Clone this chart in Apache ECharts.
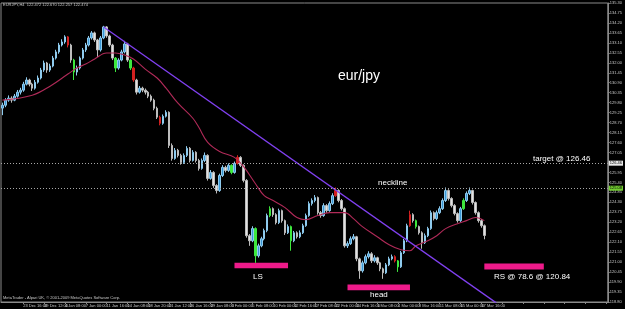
<!DOCTYPE html>
<html><head><meta charset="utf-8">
<script src="https://cdn.jsdelivr.net/npm/echarts/dist/echarts.min.js"></script>
<style>html,body{margin:0;padding:0;background:#000;}#c{width:625px;height:309px;}</style>
</head><body><div id="c"></div>
<script>
// ---- data ----
const dateLabels = ["21 Dec 2009","23 Dec 16:00","29 Dec 12:00","4 Jan 08:00","7 Jan 00:00","11 Jan 16:00","14 Jan 08:00","18 Jan 20:00","21 Jan 12:00","26 Jan 16:00","29 Jan 08:00","3 Feb 00:00","5 Feb 08:00","10 Feb 00:00","12 Feb 16:00","17 Feb 08:00","22 Feb 00:00","24 Feb 16:00","1 Mar 08:00","4 Mar 00:00","8 Mar 16:00","11 Mar 08:00","15 Mar 00:00","17 Mar 16:00"];
const firstOpen = 129.50;
const closes = [129.66,129.94,130.05,129.94,130.16,130.38,130.49,130.82,131.05,130.82,
130.60,130.93,131.16,131.60,131.99,131.60,131.82,132.26,132.60,132.98,
133.15,133.43,132.98,132.15,131.49,131.71,132.26,132.71,132.98,133.37,
133.65,133.26,132.71,133.37,133.98,133.48,132.98,132.26,131.71,132.15,
132.60,133.04,132.15,131.71,131.05,130.38,130.60,130.49,130.38,130.16,
129.94,129.49,129.00,128.66,129.05,129.27,127.44,126.72,127.17,126.89,
126.50,126.89,127.28,126.61,127.06,126.61,126.17,126.61,126.89,125.62,
125.95,125.23,124.95,125.78,126.23,126.06,126.34,125.95,126.45,126.78,
126.34,125.51,122.46,122.18,122.85,121.35,121.90,122.29,122.74,123.57,
123.95,123.62,123.18,123.84,123.29,122.62,122.96,122.18,122.62,122.40,
122.62,123.01,123.57,124.23,124.40,124.56,123.73,123.57,124.12,123.84,
124.23,124.67,124.95,124.40,123.95,121.90,122.02,122.29,122.40,121.18,
120.52,120.96,121.30,121.46,121.07,121.24,120.96,120.63,120.41,120.85,
121.18,121.30,121.07,120.74,121.52,122.18,123.01,123.62,123.29,122.96,
122.62,122.07,122.46,122.85,123.73,123.40,123.73,123.95,124.40,124.95,
124.51,124.12,123.68,123.29,123.95,124.40,124.79,124.95,124.29,123.73,
123.29,123.01,122.47];
const highs = [129.80,130.05,130.20,130.15,130.28,130.50,130.62,130.95,131.20,131.12,
130.90,131.05,131.30,131.72,132.12,132.05,131.95,132.38,132.72,133.10,
133.30,133.52,133.48,133.05,132.22,131.85,132.35,132.82,133.10,133.48,
133.75,133.72,133.32,133.48,134.04,134.02,133.55,133.05,132.32,132.25,
132.72,133.21,133.10,132.22,131.78,131.12,130.72,130.68,130.58,130.45,
130.25,130.02,129.58,129.08,129.15,129.38,129.32,127.55,127.30,127.25,
126.98,127.00,127.40,127.35,127.18,127.12,126.70,126.72,127.05,126.95,
126.08,126.02,125.30,125.88,126.35,126.32,126.45,126.40,126.55,126.90,
126.85,126.40,125.58,122.55,122.98,122.92,122.02,122.40,122.85,123.68,
124.08,124.02,123.70,123.95,123.90,123.35,123.08,123.02,122.72,122.70,
122.75,123.12,123.68,124.35,124.52,124.70,124.62,123.82,124.25,124.20,
124.35,124.80,125.12,125.02,124.48,124.02,122.15,122.42,122.55,122.45,
121.25,121.08,121.42,121.60,121.55,121.38,121.30,121.02,120.70,120.95,
121.30,121.42,121.38,121.12,121.62,122.28,123.12,123.84,123.70,123.35,
123.02,122.70,122.58,122.95,123.85,123.80,123.85,124.08,124.52,125.12,
125.02,124.58,124.20,123.75,124.05,124.52,124.90,125.12,125.00,124.35,
123.80,123.38,123.08];
const lows = [129.11,129.55,129.85,129.80,129.88,130.08,130.25,130.40,130.75,130.70,
130.45,130.52,130.85,131.08,131.50,131.45,131.50,131.75,132.18,132.50,
132.90,133.05,132.85,132.00,131.05,131.30,131.62,132.18,132.60,132.90,
133.28,133.15,132.32,132.62,133.30,133.38,132.88,132.15,131.49,131.62,
132.08,132.52,132.05,131.60,130.95,130.25,130.30,130.38,130.25,130.05,
129.85,129.38,128.90,128.55,128.58,128.98,127.30,126.60,126.65,126.78,
126.38,126.42,126.80,126.50,126.55,126.50,126.05,126.10,126.52,125.50,
125.55,125.10,124.79,124.88,125.70,125.95,125.98,125.85,125.88,126.38,
126.25,125.40,122.35,121.90,122.10,120.96,121.25,121.82,122.20,122.65,
123.48,123.50,123.08,123.10,123.18,122.50,122.55,121.63,122.10,122.30,
122.32,122.55,122.95,123.50,124.12,124.30,123.62,123.45,123.50,123.72,
123.78,124.15,124.60,124.30,123.85,121.80,121.78,121.95,122.20,121.05,
120.08,120.42,120.88,121.20,120.95,120.98,120.85,120.50,120.08,120.35,
120.78,121.10,120.98,120.46,120.68,121.45,122.10,122.95,123.18,122.85,
122.52,121.74,122.00,122.38,122.78,123.30,123.32,123.65,123.88,124.32,
124.40,124.02,123.58,123.18,123.22,123.88,124.32,124.70,124.18,123.62,
123.18,122.90,122.26];
const maPoints = [[0,129.94],[10,130.21],[16,130.71],[22,131.38],[25,131.71],[28,131.93],[31,132.21],[35,132.54],[38,132.54],[41,132.43],[44,132.21],[48,131.65],[52,131.16],[55,130.60],[59,129.77],[64,128.94],[66,128.44],[69,127.61],[73,127.11],[78,126.78],[81,126.28],[85,125.34],[88,124.67],[91,124.40],[95,124.01],[99,123.46],[102,123.34],[106,123.57],[110,123.73],[115,123.73],[118,123.40],[121,122.96],[126,122.40],[130,121.96],[134,121.68],[137,121.63],[139,121.90],[143,122.18],[146,122.46],[149,122.85],[153,123.12],[156,123.29],[159,123.46],[162,123.29]];
const trendLine = [[34,133.98],[166,118.75]];
const targetLevel = 126.46;
const necklineLevel = 125.08;
const lastPrice = 122.47;
const lsZone = [78, 96, 120.66, 120.97];
const headZone = [116, 137, 119.45, 119.76];
const rsZone = [162, 182, 120.60, 120.92];
const greenCandles = [24, 38, 43, 77, 85, 90, 97, 133, 139, 155];
const redCandles = [22, 44, 53, 79, 112, 132, 137];
const slotCount = 204;
const labelStep = 7;

// ---- build ----
const categories = [];
for (let s = 0; s < slotCount; s++) {
  const k = s / labelStep;
  categories.push(s % labelStep === 0 && k < dateLabels.length ? dateLabels[k] : '');
}
function solid(c){ return {color:c, color0:c, borderColor:c, borderColor0:c}; }
const candleData = closes.map((c, i) => {
  const o = i === 0 ? firstOpen : closes[i - 1];
  const item = {value: [o, c, lows[i], highs[i]]};
  if (greenCandles.includes(i)) item.itemStyle = solid('#3ee83e');
  if (redCandles.includes(i)) item.itemStyle = solid('#d42020');
  return item;
});
function zone(z){ return [{xAxis: z[0], yAxis: z[3]}, {xAxis: z[1], yAxis: z[2]}]; }
const FF = "'Liberation Sans', Arial, sans-serif";
const axisLblBox = {fontSize: 4, padding: [0, 1], lineHeight: 5, fontFamily: FF};

const chart = echarts.init(document.getElementById('c'), null, {renderer: 'canvas'});
chart.setOption({
  backgroundColor: '#000',
  animation: false,
  grid: {left: 1, right: 13, top: 3, bottom: 7, show: true, borderColor: '#8a8a8a', borderWidth: 1, backgroundColor: 'transparent'},
  xAxis: {
    type: 'category', data: categories, boundaryGap: true,
    axisLine: {show: true, lineStyle: {color: '#8a8a8a', width: 1}},
    axisTick: {show: true, interval: labelStep - 1, alignWithLabel: true, length: 2, lineStyle: {color: '#8a8a8a'}},
    axisLabel: {interval: labelStep - 1, fontSize: 4, color: '#c8c8c8', align: 'left', margin: 2, fontFamily: FF},
    splitLine: {show: false}
  },
  yAxis: {
    type: 'value', position: 'right', min: 118.8, max: 135.3, interval: 0.55, scale: true,
    axisLine: {show: true, lineStyle: {color: '#8a8a8a', width: 1}},
    axisTick: {show: true, length: 2, lineStyle: {color: '#8a8a8a'}},
    axisLabel: {fontSize: 4, color: '#c8c8c8', margin: 2, fontFamily: FF, formatter: v => v.toFixed(2)},
    splitLine: {show: false}
  },
  series: [
    {
      type: 'candlestick', data: candleData, barWidth: 2,
      itemStyle: {color: '#3a96d4', color0: '#e2e2e2', borderColor: '#8fcbee', borderColor0: '#bdbdbd', borderWidth: 1},
      markLine: {
        symbol: 'none', silent: true, animation: false,
        lineStyle: {color: '#a8a8a8', type: [1, 2], width: 1},
        label: Object.assign({position: 'end', distance: 1, color: '#000'}, axisLblBox),
        data: [
          {yAxis: targetLevel, label: {formatter: targetLevel.toFixed(2), backgroundColor: '#e8e8e8'}},
          {yAxis: necklineLevel, label: {formatter: necklineLevel.toFixed(2), backgroundColor: '#72cc30'}},
          {yAxis: lastPrice, lineStyle: {opacity: 0}, label: {formatter: lastPrice.toFixed(2), backgroundColor: '#e8e8e8'}}
        ]
      }
    },
    {
      type: 'line', data: maPoints, smooth: 0.4, symbol: 'none',
      lineStyle: {color: '#b02a58', width: 1.1},
      markArea: {
        silent: true,
        itemStyle: {color: '#ee1a8a', opacity: 1},
        data: [zone(lsZone), zone(headZone), zone(rsZone)]
      }
    },
    {
      type: 'line', data: trendLine, symbol: 'none', clip: true,
      lineStyle: {color: '#8040f0', width: 1.3}
    }
  ],
  graphic: [
    {type: 'text', left: 3, top: 3, style: {text: 'EURJPY,H4  122.472 122.670 122.257 122.474', fill: '#c8c8c8', font: '4px ' + FF}},
    {type: 'text', left: 3, top: 296, style: {text: 'MetaTrader - Alpari UK, \u00a9 2001-2009 MetaQuotes Software Corp.', fill: '#c8c8c8', font: '4px ' + FF}},
    {type: 'text', left: 338, top: 69, style: {text: 'eur/jpy', fill: '#ffffff', font: '14px ' + FF}},
    {type: 'text', left: 378, top: 179, style: {text: 'neckline', fill: '#ffffff', font: '8px ' + FF}},
    {type: 'text', left: 533, top: 155, style: {text: 'target @ 126.46', fill: '#ffffff', font: '8px ' + FF}},
    {type: 'text', left: 253, top: 273, style: {text: 'LS', fill: '#ffffff', font: '8px ' + FF}},
    {type: 'text', left: 370, top: 291, style: {text: 'head', fill: '#ffffff', font: '8px ' + FF}},
    {type: 'text', left: 494, top: 273, style: {text: 'RS @ 78.6 @ 120.84', fill: '#ffffff', font: '8px ' + FF}}
  ]
});
</script>
</body></html>
